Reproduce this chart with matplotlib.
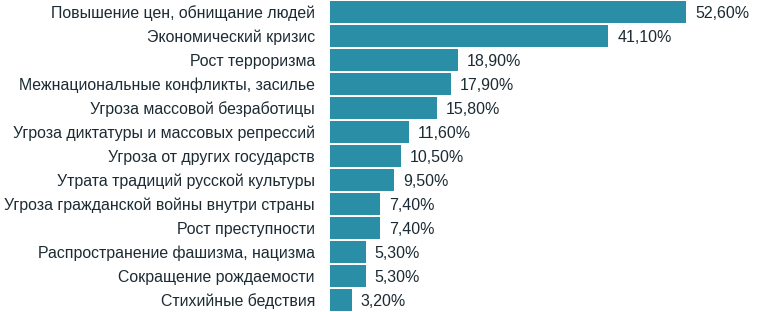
import matplotlib
matplotlib.use("Agg")
import matplotlib.pyplot as plt

plt.rcParams['font.family'] = ['Liberation Sans', 'DejaVu Sans']

categories = [
    "Повышение цен, обнищание людей",
    "Экономический кризис",
    "Рост терроризма",
    "Межнациональные конфликты, засилье",
    "Угроза массовой безработицы",
    "Угроза диктатуры и массовых репрессий",
    "Угроза от других государств",
    "Утрата традиций русской культуры",
    "Угроза гражданской войны внутри страны",
    "Рост преступности",
    "Распространение фашизма, нацизма",
    "Сокращение рождаемости",
    "Стихийные бедствия",
]
values = [52.6, 41.1, 18.9, 17.9, 15.8, 11.6, 10.5, 9.5, 7.4, 7.4, 5.3, 5.3, 3.2]

bar_color = "#2a8fa6"
text_color = "#1c2b33"

fig = plt.figure(figsize=(7.57, 3.12), dpi=100)
ax = fig.add_axes([330 / 757, 0, 427 / 757, 1])

y = list(range(len(values)))
ax.barh(y, values, height=0.955, color=bar_color)
ax.set_ylim(len(values) - 0.5, -0.5)
ax.set_xlim(0, 427 / 6.768)

for yi, v in zip(y, values):
    ax.annotate(f"{v:.2f}%".replace(".", ","), (v, yi), xytext=(9, -1),
                textcoords="offset pixels", va="center", ha="left",
                fontsize=11.5, color=text_color)

ax.set_yticks(y)
ax.set_yticklabels(categories, fontsize=11.4, color=text_color)
ax.tick_params(axis="y", length=0, pad=15 * 72 / 100)
ax.set_xticks([])
for s in ax.spines.values():
    s.set_visible(False)

fig.savefig("out.png", dpi=100)
